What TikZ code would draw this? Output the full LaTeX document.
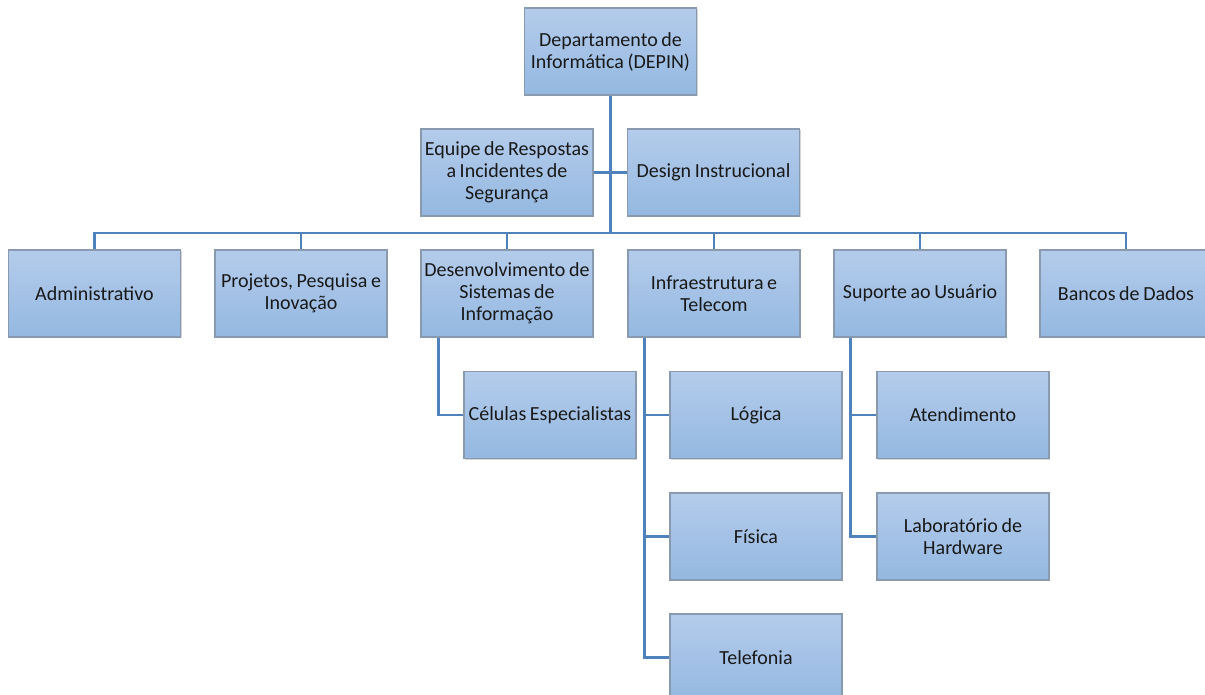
\documentclass[tikz,border=0pt]{standalone}
\usepackage{fontspec}
\setmainfont{Carlito}[WordSpace={0.8,0.5,0.5}]
\usetikzlibrary{shadows}
\definecolor{boxtop}{HTML}{B4CCEB}
\definecolor{boxbot}{HTML}{94B8E1}
\definecolor{boxedge}{HTML}{8A9AAE}
\definecolor{linkblue}{HTML}{4F81BD}
\tikzset{unit/.style={draw=boxedge, line width=1.2pt, top color=boxtop, bottom color=boxbot,
    minimum width=172pt, minimum height=87pt, inner sep=1pt, align=center,
    font=\fontsize{20}{22}\selectfont, text=black!90,
    drop shadow={shadow xshift=1pt, shadow yshift=-1pt, opacity=0.35}},
  link/.style={draw=linkblue, line width=2.2pt}}

\begin{document}
\begin{tikzpicture}[x=1pt,y=-1pt]
				\useasboundingbox (0,0) rectangle (1205,695);
				\clip (0,0) rectangle (1205,695);
				\coordinate (bus) at (610.5,233);
				\node[unit] (dep) at (610.5, 51.5) {Departamento de\\Informática (DEPIN)};
				\node[unit] (eq) at (507, 172.5) {Equipe de Respostas\\a Incidentes de\\Segurança};
				\node[unit] (dsg) at (713.5, 172.5) {Design Instrucional};
				\node[unit] (adm) at (94.5, 293.5) {Administrativo};
				\node[unit] (ppi) at (301, 293.5) {Projetos, Pesquisa e\\Inovação};
				\node[unit] (dsi) at (507, 293.5) {Desenvolvimento de\\Sistemas de\\Informação};
				\node[unit] (inf) at (714, 293.5) {Infraestrutura e\\Telecom};
				\node[unit] (sup) at (920, 293.5) {Suporte ao Usuário};
				\node[unit] (bd) at (1126, 293.5) {Bancos de Dados};
				\node[unit] (cel) at (550, 415) {Células Especialistas};
				\node[unit] (log) at (756, 415) {Lógica};
				\node[unit] (fis) at (756, 536.5) {Física};
				\node[unit] (tel) at (756, 657.5) {Telefonia};
				\node[unit] (ate) at (963, 415) {Atendimento};
				\node[unit] (lab) at (963, 536.5) {Laboratório de\\Hardware};
				% ligacoes
				\draw[link] (dep.south) -- (bus);
				\draw[link] (eq.east) -- (eq.east -| dep.south);
				\draw[link] (dsg.west) -- (dsg.west -| dep.south);
				\foreach \n in {adm,ppi,dsi,inf,sup,bd}
					\draw[link] (bus) -| (\n.north);
				\draw[link] ([xshift=18pt]dsi.south west) |- (cel.west);
				\draw[link] ([xshift=17pt]inf.south west) |- (log.west);
				\draw[link] ([xshift=17pt]inf.south west) |- (fis.west);
				\draw[link] ([xshift=17pt]inf.south west) |- (tel.west);
				\draw[link] ([xshift=17pt]sup.south west) |- (ate.west);
				\draw[link] ([xshift=17pt]sup.south west) |- (lab.west);
\end{tikzpicture}
\end{document}
